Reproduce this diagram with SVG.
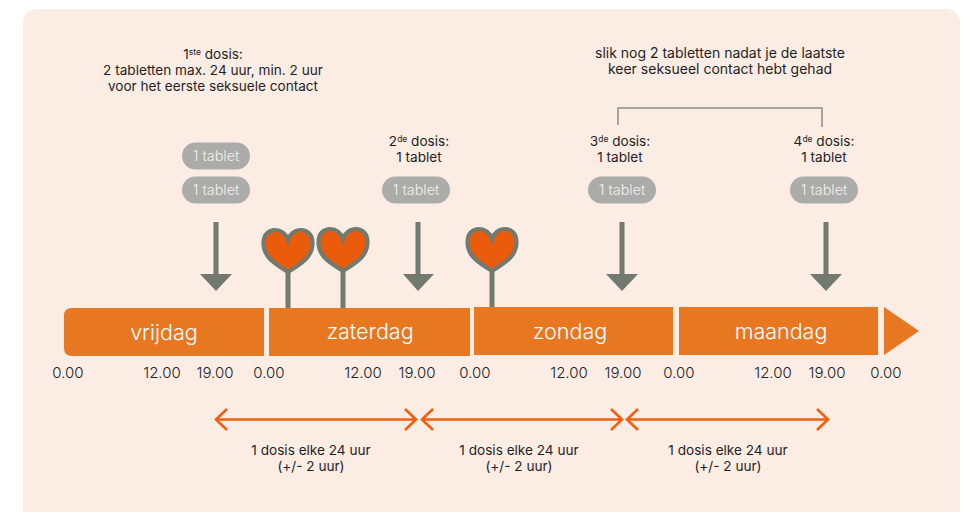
<svg xmlns="http://www.w3.org/2000/svg" width="962" height="512" viewBox="0 0 962 512">
<style>
text{font-family:"Inter","Noto Sans","Liberation Sans",sans-serif;text-anchor:middle}
.t{font-size:13.600px;fill:#1f1f1f}
.n{font-size:14px;fill:#1f1f1f}
.s{font-size:8.500px}
.p{fill:#ababa9}
.pt{font-size:14.400px;fill:#f2efea;font-weight:300}
.bar{fill:#e87722}
.day{font-size:21.500px;fill:#fff;font-weight:300}
.time{font-size:15px;fill:#222;font-weight:300}
.stem{stroke:#727a70;stroke-width:5;fill:none}
.head{fill:#727a70}
.heart{fill:#ea5b0c;stroke:#727a70;stroke-width:4.2}
.dbl{stroke:#f0600f;stroke-width:2.6;fill:none}
</style>
<defs>
<path id="h" d="M0 20C-12 12 -24.500 6 -24.500 -9C-24.500 -18 -18.500 -22 -13 -22C-7 -22 -2 -18 0 -12C2 -18 7 -22 13 -22C18.500 -22 24.500 -18 24.500 -9C24.500 6 12 12 0 20Z"/>
<g id="pill"><rect x="-34" y="-13.500" width="68" height="27" rx="13.500" class="p"/><text y="5" class="pt">1 tablet</text></g>
</defs>
<rect x="23" y="9" width="937" height="520" rx="14" fill="#fbece4"/>
<g id="note-1"><text x="213" y="59" class="t">1<tspan class="s" dy="-4">ste</tspan><tspan dy="4"> dosis:</tspan></text><text x="213" y="75" class="t">2 tabletten max. 24 uur, min. 2 uur</text><text x="213" y="91" class="t">voor het eerste seksuele contact</text></g>
<g id="note-2"><text x="419" y="146" class="t">2<tspan class="s" dy="-4">de</tspan><tspan dy="4"> dosis:</tspan></text><text x="419" y="162" class="t">1 tablet</text></g>
<g id="note-3"><text x="620" y="146" class="t">3<tspan class="s" dy="-4">de</tspan><tspan dy="4"> dosis:</tspan></text><text x="620" y="162" class="t">1 tablet</text></g>
<g id="note-4"><text x="824" y="146" class="t">4<tspan class="s" dy="-4">de</tspan><tspan dy="4"> dosis:</tspan></text><text x="824" y="162" class="t">1 tablet</text></g>
<g id="note-5"><text x="720" y="58" class="n">slik nog 2 tabletten nadat je de laatste</text><text x="720" y="74" class="n">keer seksueel contact hebt gehad</text></g>
<g id="pills">
<use href="#pill" x="216" y="156"/><use href="#pill" x="216" y="190"/><use href="#pill" x="416" y="190"/><use href="#pill" x="622" y="190"/><use href="#pill" x="824" y="190"/>
</g>
<g id="days">
<path class="bar" d="M72 308H264V356H72Q64 356 64 348V316Q64 308 72 308Z"/><rect class="bar" x="269" y="308" width="201" height="48"/><rect class="bar" x="474" y="307" width="199" height="48"/><rect class="bar" x="679" y="307" width="199" height="48"/><path class="bar" d="M884 307L919 331L884 355Z"/>
<text x="164" y="340" class="day">vrijdag</text><text x="370" y="339" class="day">zaterdag</text><text x="570" y="339" class="day">zondag</text><text x="781" y="339" class="day">maandag</text>
</g>
<g id="times">
<text x="68" y="378" class="time">0.00</text><text x="162" y="378" class="time">12.00</text><text x="215" y="378" class="time">19.00</text><text x="269" y="378" class="time">0.00</text><text x="363" y="378" class="time">12.00</text><text x="417" y="378" class="time">19.00</text><text x="475" y="378" class="time">0.00</text><text x="569" y="378" class="time">12.00</text><text x="623" y="378" class="time">19.00</text><text x="679" y="378" class="time">0.00</text><text x="773" y="378" class="time">12.00</text><text x="827" y="378" class="time">19.00</text><text x="886" y="378" class="time">0.00</text>
</g>
<g id="hearts">
<g id="heart-1"><path class="stem" d="M288 272V308"/><use href="#h" x="288" y="252" class="heart"/></g>
<g id="heart-2"><path class="stem" d="M343 272V308"/><use href="#h" x="343" y="251" class="heart"/></g>
<g id="heart-3"><path class="stem" d="M492 272V307"/><use href="#h" x="492" y="251" class="heart"/></g>
</g>
<g id="connectors">
<path d="M618 125V108H822V127" fill="none" stroke="#8b8d86" stroke-width="1.500"/>
<g id="dose-arrows">
<path class="stem" d="M216 222V276"/><path class="head" d="M200 274H232L216 291Z"/>
<path class="stem" d="M418 222V276"/><path class="head" d="M403 274H434L418 291Z"/>
<path class="stem" d="M622 222V276"/><path class="head" d="M606 274H638L622 291Z"/>
<path class="stem" d="M826 222V276"/><path class="head" d="M810 274H842L826 291Z"/>
</g>
<g id="interval-arrows">
<path class="dbl" d="M216 419.500H416M227 409L216 419.500L227 430M405 409L416 419.500L405 430"/>
<path class="dbl" d="M422 419.500H622M433 409L422 419.500L433 430M611 409L622 419.500L611 430"/>
<path class="dbl" d="M627 419.500H828M638 409L627 419.500L638 430M817 409L828 419.500L817 430"/>
</g>
</g>
<g id="interval-labels">
<text x="311" y="455" class="t">1 dosis elke 24 uur</text><text x="311" y="471" class="t">(+/- 2 uur)</text>
<text x="519" y="455" class="t">1 dosis elke 24 uur</text><text x="519" y="471" class="t">(+/- 2 uur)</text>
<text x="728" y="455" class="t">1 dosis elke 24 uur</text><text x="728" y="471" class="t">(+/- 2 uur)</text>
</g>
</svg>
